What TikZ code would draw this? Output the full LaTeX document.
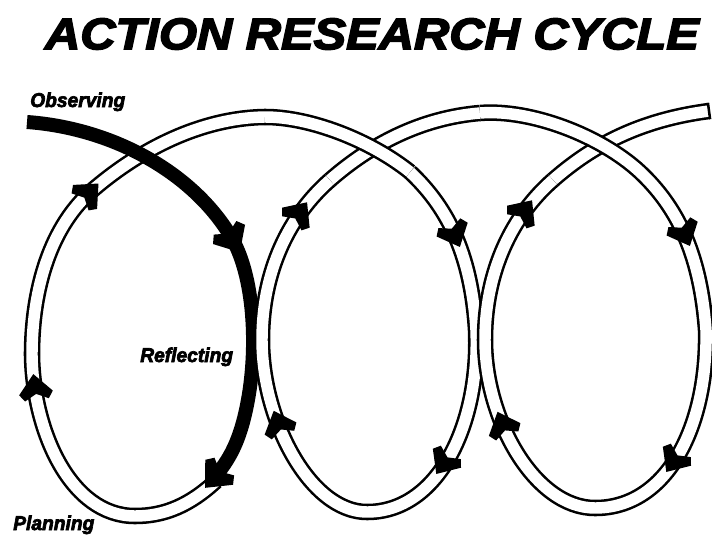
\documentclass[tikz,border=0pt]{standalone}
\usepackage{fontspec}
\newfontfamily\titlefont{Liberation Sans}[FakeStretch=1.11]
\newfontfamily\labelfont{Liberation Sans}[FakeStretch=0.96]
\newcommand\heavyink[2]{\special{pdf:literal direct 2 Tr #1 w}#2\special{pdf:literal direct 0 Tr}}

\begin{document}
\begin{tikzpicture}[x=0.75pt,y=0.75pt,yscale=-1,xscale=1,
  band/.style={draw=black,line width=1.9pt,double=white,double distance=8.6pt},
  heavy/.style={draw=black,line width=10.5pt},
  tag/.style={inner sep=0pt,anchor=base west,font=\labelfont\bfseries\itshape\fontsize{15}{18}\selectfont},
  barb/.pic={\fill (12,0) -- (-7,-17) -- (-14,-12) -- (-8,0) -- (-14,12) -- (-7,17) -- cycle;}]
\useasboundingbox (0,0) rectangle (712,535);

%Curve Lines  first loop, bottom and left side
\draw [band]   (216,481) .. controls (190,505) and (165,516) .. (135,516) .. controls (70,516) and (33,430) .. (32,355) .. controls (32,290) and (50,225) .. (95,188) .. controls (140,150) and (200,118) .. (265,117) ;
%Curve Lines  observing arrow
\draw [heavy]   (27,122) .. controls (110,128) and (190,170) .. (230,235) .. controls (255,275) and (258,350) .. (247,405) .. controls (240,440) and (230,460) .. (212,480) ;
%Curve Lines  second loop
\draw [band]   (410,172) .. controls (445,205) and (471,250) .. (476,330) .. controls (480,425) and (438,512) .. (367,512) .. controls (310,512) and (262,420) .. (262,340) .. controls (262,270) and (290,215) .. (330,180) ;
\draw [band]   (330,180) .. controls (370,145) and (420,118) .. (480,113) ;
%Curve Lines  first loop, top
\draw [band]   (265,117) .. controls (310,117) and (370,140) .. (410,172) ;
%Curve Lines  loose end
\draw [band]   (553,180) .. controls (593,145) and (640,120) .. (709,111) ;
\draw [line width=1.9]   (707.9,102.8) -- (710.1,119.2) ;
%Curve Lines  third loop
\draw [band]   (480,113) .. controls (530,109) and (600,135) .. (640,172) .. controls (675,205) and (700,250) .. (706,330) .. controls (708,425) and (668,508) .. (595,508) .. controls (535,508) and (485,420) .. (485,340) .. controls (485,270) and (513,215) .. (553,180) ;

%Shape: arrow heads
\pic [rotate=45] at (90,192) {barb};
\pic [rotate=98] at (35,386) {barb};
\pic [rotate=-59,scale=1.1] at (233,241) {barb};
\pic [rotate=-132,scale=1.1] at (214,478) {barb};
\pic [rotate=-66] at (455,236) {barb};
\pic [rotate=-124] at (443,464) {barb};
\pic [rotate=111] at (278,422) {barb};
\pic [rotate=54] at (300,212) {barb};
\pic [rotate=-66] at (685,235) {barb};
\pic [rotate=-124] at (673,462) {barb};
\pic [rotate=112] at (502,423) {barb};
\pic [rotate=54] at (525,210) {barb};

% Text Node
\draw (372,34) node [inner sep=0pt] (title) {\titlefont\bfseries\itshape\fontsize{33}{40}\selectfont\heavyink{1.2}{ACTION RESEARCH CYCLE}};
% Text Node
\draw (30,107) node [tag] (observing) {\heavyink{0.5}{Observing}};
% Text Node
\draw (140,362) node [tag] (reflecting) {\heavyink{0.5}{Reflecting}};
% Text Node
\draw (13,530) node [tag] (planning) {\heavyink{0.5}{Planning}};

\end{tikzpicture}
\end{document}
